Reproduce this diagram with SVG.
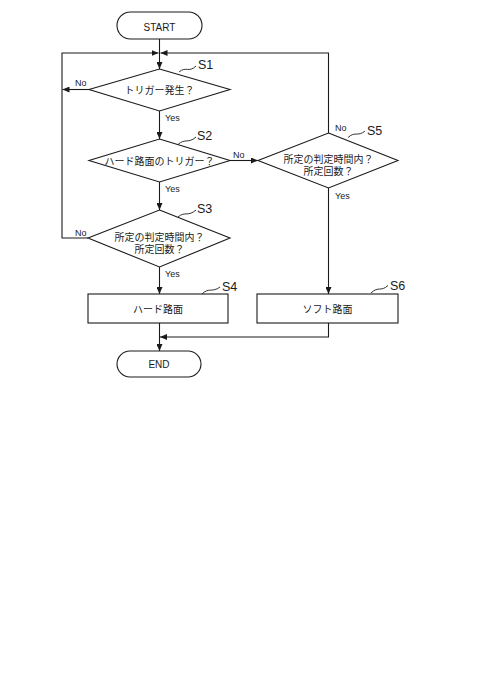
<svg xmlns="http://www.w3.org/2000/svg" width="480" height="694" viewBox="0 0 480 694">
<defs>
<style>
.shape{fill:#fff;stroke:#1a1a1a;stroke-width:1.1}
.line{fill:none;stroke:#1a1a1a;stroke-width:1.1}
.lead{fill:none;stroke:#1a1a1a;stroke-width:0.9}
.t{font-family:"Liberation Sans","Noto Sans CJK JP",sans-serif;font-size:10px;fill:#1a1a1a;text-anchor:middle}
.lbl{font-family:"Liberation Sans","Noto Sans CJK JP",sans-serif;font-size:9px;fill:#1a1a1a}
.step{font-family:"Liberation Sans",sans-serif;font-size:12.5px;fill:#1a1a1a}
</style>
<marker id="arr" markerUnits="userSpaceOnUse" markerWidth="8" markerHeight="6" refX="7" refY="3" orient="auto">
<path d="M0,0 L7,3 L0,6 Z" fill="#1a1a1a"/>
</marker>
</defs>
<rect width="480" height="694" fill="#fff"/>
<g id="connectors">
<path class="line" d="M159.5,39 V69" marker-end="url(#arr)"/>
<path class="line" d="M88,238 H62 V53 H158.5" marker-end="url(#arr)"/>
<path class="line" d="M90,89.5 H62.5" marker-end="url(#arr)"/>
<path class="line" d="M328.5,133 V53 H160.5" marker-end="url(#arr)"/>
<path class="line" d="M159.5,111 V139" marker-end="url(#arr)"/>
<path class="line" d="M159.5,182 V210" marker-end="url(#arr)"/>
<path class="line" d="M159.5,267 V294" marker-end="url(#arr)"/>
<path class="line" d="M230,160.5 H258" marker-end="url(#arr)"/>
<path class="line" d="M328.5,188 V294" marker-end="url(#arr)"/>
<path class="line" d="M159.5,323 V351" marker-end="url(#arr)"/>
<path class="line" d="M328.5,323 V337 H160" marker-end="url(#arr)"/>
<text class="lbl" x="75" y="86">No</text>
<text class="lbl" x="165" y="120.5">Yes</text>
<text class="lbl" x="233" y="157.5">No</text>
<text class="lbl" x="165" y="191.5">Yes</text>
<text class="lbl" x="75" y="235.5">No</text>
<text class="lbl" x="165" y="276.5">Yes</text>
<text class="lbl" x="335" y="130.5">No</text>
<text class="lbl" x="335" y="198.5">Yes</text>
</g>
<g id="start">
<rect class="shape" x="117" y="12" width="85" height="27" rx="13.5"/>
<text class="t" x="159.5" y="30.5">START</text>
</g>
<g id="s1">
<polygon class="shape" points="159.5,69 230,89.5 159.5,111 89,89.5"/>
<text class="t" x="159.5" y="93.5">トリガー発生？</text>
<path class="lead" d="M179,72 C186,66 189,73 196,66"/>
<text class="step" x="198" y="68.5">S1</text>
</g>
<g id="s2">
<polygon class="shape" points="159.5,139 230,160.5 159.5,182 89,160.5"/>
<text class="t" x="159.5" y="165">ハード路面のトリガー？</text>
<path class="lead" d="M178,144.5 C185,138 188,144 196,137"/>
<text class="step" x="197" y="139.5">S2</text>
</g>
<g id="s3">
<polygon class="shape" points="159.5,210 230,238 159.5,267 88,238"/>
<text class="t" x="159.5" y="240.5">所定の判定時間内？</text>
<text class="t" x="159.5" y="253">所定回数？</text>
<path class="lead" d="M178,217 C185,211 188,217 196,210"/>
<text class="step" x="197" y="212.5">S3</text>
</g>
<g id="s5">
<polygon class="shape" points="328.5,133 398,160.5 328.5,188 258,160.5"/>
<text class="t" x="328.5" y="162.5">所定の判定時間内？</text>
<text class="t" x="328.5" y="174.5">所定回数？</text>
<path class="lead" d="M348,137.5 C355,131 358,137 365,131"/>
<text class="step" x="367" y="134.5">S5</text>
</g>
<g id="s4">
<rect class="shape" x="88" y="294" width="140" height="29"/>
<text class="t" x="158" y="313">ハード路面</text>
<path class="lead" d="M202,294 C209,287 212,293 220,287"/>
<text class="step" x="222" y="291">S4</text>
</g>
<g id="s6">
<rect class="shape" x="257" y="294" width="141" height="29"/>
<text class="t" x="327.5" y="313">ソフト路面</text>
<path class="lead" d="M371,293 C378,286 381,292 388,285.5"/>
<text class="step" x="390" y="289.5">S6</text>
</g>
<g id="end">
<rect class="shape" x="117" y="351" width="84" height="26" rx="13"/>
<text class="t" x="159" y="367.5">END</text>
</g>
</svg>
